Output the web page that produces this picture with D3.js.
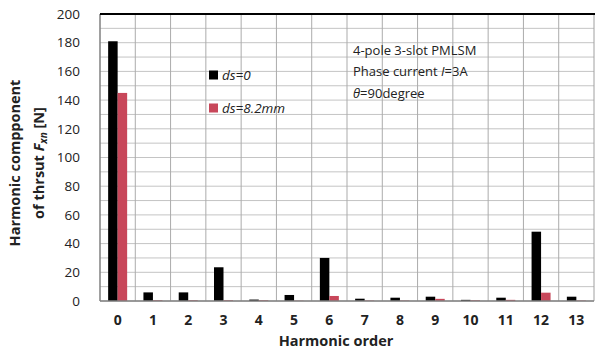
<!DOCTYPE html>
<html><head><meta charset="utf-8">
<script src="https://cdn.jsdelivr.net/npm/d3@7"></script>
<style>body{margin:0;background:#fff;}svg{display:block;font-family:"Open Sans",sans-serif;}</style>
</head><body><svg id="c" width="595" height="354"></svg>
<script>
const categories = ["0","1","2","3","4","5","6","7","8","9","10","11","12","13"];
const ds0 = [181, 6, 6, 23.5, 1, 4.2, 30, 1.6, 2.3, 3, 0.8, 2.3, 48.3, 3];
const ds82 = [145, 0.5, 0.5, 0.5, 0.5, 0.2, 3.5, 0.3, 0.3, 1.5, 0.5, 0.8, 5.8, 0.3];
const yTicks = [0,20,40,60,80,100,120,140,160,180,200];
const yGrid = d3.range(0, 201, 10);
const seriesNames = ["ds=0", "ds=8.2mm"];
const colors = ["#000000", "#c8475a"];

const svg = d3.select("#c");
const m = {l:100, r:594, t:14, b:301};
const x = d3.scaleBand().domain(categories).range([m.l, m.r]).padding(0);
const y = d3.scaleLinear().domain([0,200]).range([m.b, m.t]);

// grid
svg.append("g").selectAll("line").data(yGrid).join("line")
  .attr("x1", m.l).attr("x2", m.r).attr("y1", d=>y(d)).attr("y2", d=>y(d))
  .attr("stroke", "#c4c4c4").attr("stroke-width", 1);
svg.append("g").selectAll("line").data(categories.slice(1)).join("line")
  .attr("x1", d=>x(d)).attr("x2", d=>x(d)).attr("y1", m.t).attr("y2", m.b)
  .attr("stroke", "#ababab").attr("stroke-width", 1);

// bars
const bw = 9.5;
const series = [ds0, ds82];
series.forEach((vals, si) => {
  svg.append("g").selectAll("rect").data(categories).join("rect")
    .attr("x", (d)=> x(d) + x.bandwidth()/2 - bw + si*bw)
    .attr("width", bw)
    .attr("y", (d,i)=> y(vals[i]))
    .attr("height", (d,i)=> y(0) - y(vals[i]))
    .attr("fill", colors[si]);
});

// frame
svg.append("line").attr("x1", m.l).attr("x2", m.l).attr("y1", m.t).attr("y2", m.b).attr("stroke", "#808080").attr("stroke-width", 1.5);
svg.append("line").attr("x1", m.r).attr("x2", m.r).attr("y1", m.t).attr("y2", m.b).attr("stroke", "#a0a0a0").attr("stroke-width", 1);
svg.append("line").attr("x1", m.l).attr("x2", m.r).attr("y1", m.b).attr("y2", m.b).attr("stroke", "#808080").attr("stroke-width", 1.5);
svg.append("line").attr("x1", m.l).attr("x2", m.r+1).attr("y1", m.t).attr("y2", m.t).attr("stroke", "#000").attr("stroke-width", 2);

// y tick labels
svg.append("g").selectAll("text").data(yTicks).join("text")
  .attr("x", 80).attr("y", d=>y(d)).attr("dy", "0.35em").attr("text-anchor", "end")
  .attr("font-size", 13.5).attr("fill", "#222").text(d=>d);

// x tick labels
svg.append("g").selectAll("text").data(categories).join("text")
  .attr("x", d=>x(d)+x.bandwidth()/2).attr("y", 320).attr("dy", "0.35em").attr("text-anchor", "middle")
  .attr("font-size", 14).attr("font-weight", "bold").attr("fill", "#222").text(d=>d);

// x title
svg.append("text").attr("x", 336).attr("y", 341).attr("dy","0.35em").attr("text-anchor","middle")
  .attr("font-size", 14.5).attr("font-weight","bold").attr("fill","#222").text("Harmonic order");

// y title
svg.append("text").attr("transform","translate(15,163) rotate(-90)").attr("text-anchor","middle")
  .attr("font-size", 14.5).attr("font-weight","bold").attr("fill","#222")
  .attr("y",5).text("Harmonic compponent");
const yt2 = svg.append("text").attr("transform","translate(39,163) rotate(-90)").attr("text-anchor","middle")
  .attr("font-size", 14.5).attr("font-weight","bold").attr("fill","#222").attr("y",5);
yt2.append("tspan").text("of thrsut ");
yt2.append("tspan").attr("font-style","italic").text("F");
yt2.append("tspan").attr("font-style","italic").attr("font-size",10).attr("dy",3).text("xn");
yt2.append("tspan").attr("dy",-3).text(" [N]");

// legend
const leg = [{y:75}, {y:108}];
seriesNames.forEach((n,i)=>{
  svg.append("rect").attr("x",209).attr("y",leg[i].y-4.5).attr("width",9).attr("height",9).attr("fill",colors[i]);
  svg.append("text").attr("x",222).attr("y",leg[i].y).attr("dy","0.35em").attr("font-size",13.5)
    .attr("font-style","italic").attr("fill","#222").text(n);
});

// annotation
const ann = svg.append("g").attr("font-size",13).attr("fill","#222");
ann.append("text").attr("x",353).attr("y",50).attr("dy","0.35em").text("4-pole 3-slot PMLSM");
const a2 = ann.append("text").attr("x",353).attr("y",71).attr("dy","0.35em");
a2.append("tspan").text("Phase current ");
a2.append("tspan").attr("font-style","italic").text("I");
a2.append("tspan").text("=3A");
const a3 = ann.append("text").attr("x",353).attr("y",93).attr("dy","0.35em");
a3.append("tspan").attr("font-style","italic").text("θ");
a3.append("tspan").text("=90degree");
</script></body></html>
